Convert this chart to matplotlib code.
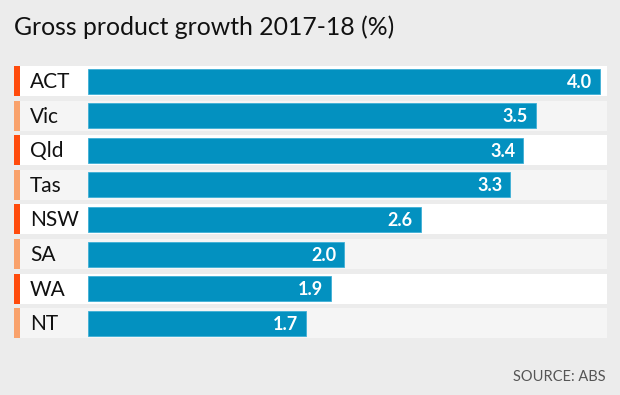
import matplotlib
matplotlib.use('Agg')
import matplotlib.pyplot as plt

# data
estados = ['ACT', 'Vic', 'Qld', 'Tas', 'NSW', 'SA', 'WA', 'NT']
crescimento = [4.0, 3.5, 3.4, 3.3, 2.6, 2.0, 1.9, 1.7]
titulo = 'Gross product growth 2017-18 (%)'
fonte = 'SOURCE: ABS'

plt.rcParams['font.family'] = ['Lato', 'DejaVu Sans']

fundo = '#ececec'
azul = '#0391c0'
laranja = ['#ff4b0c', '#f9a26c']
linhas = ['#ffffff', '#f5f5f5']

W, H = 620, 395
px = 128.0      # pixels per unit
x0 = 88.0       # pixel of zero
passo = 34.6    # row pitch
y0 = 81.0       # center of first row

fig = plt.figure(figsize=(W / 100, H / 100), dpi=100, facecolor=fundo)
ax = fig.add_axes([0, 0, 1, 1])
ax.set_facecolor(fundo)
ax.set_xlim(-x0 / px, (W - x0) / px)
ax.set_ylim((H - y0) / passo, -y0 / passo)
ax.axis('off')

esq = (14 - x0) / px
dir_ = (607 - x0) / px
pos = list(range(len(estados)))

# fundo das linhas
for i in pos:
    ax.barh(i, dir_ - esq, left=esq, height=30 / passo,
            color=linhas[i % 2], linewidth=0, zorder=1)
    ax.barh(i, 6 / px, left=esq, height=30 / passo,
            color=laranja[i % 2], linewidth=0, zorder=2)

ax.barh(pos, crescimento, height=25 / passo, color=azul,
        edgecolor='#3fb0d6', linewidth=0.6, zorder=3)

for i, (nome, v) in enumerate(zip(estados, crescimento)):
    ax.text((30 - x0) / px, i + 0.03, nome, fontsize=15, color='#111111',
            ha='left', va='center', zorder=4)
    ax.text(v - 8 / px, i + 0.03, f'{v:.1f}', fontsize=13, color='white',
            fontweight='bold', ha='right', va='center', zorder=4)

fig.text(14 / W, 1 - 27 / H, titulo, fontsize=17.8, color='#111111',
         ha='left', va='center')
fig.text(606 / W, 1 - 377 / H, fonte, fontsize=10.5, color='#555555',
         ha='right', va='center')

fig.savefig('out.png', dpi=100, facecolor=fundo)
